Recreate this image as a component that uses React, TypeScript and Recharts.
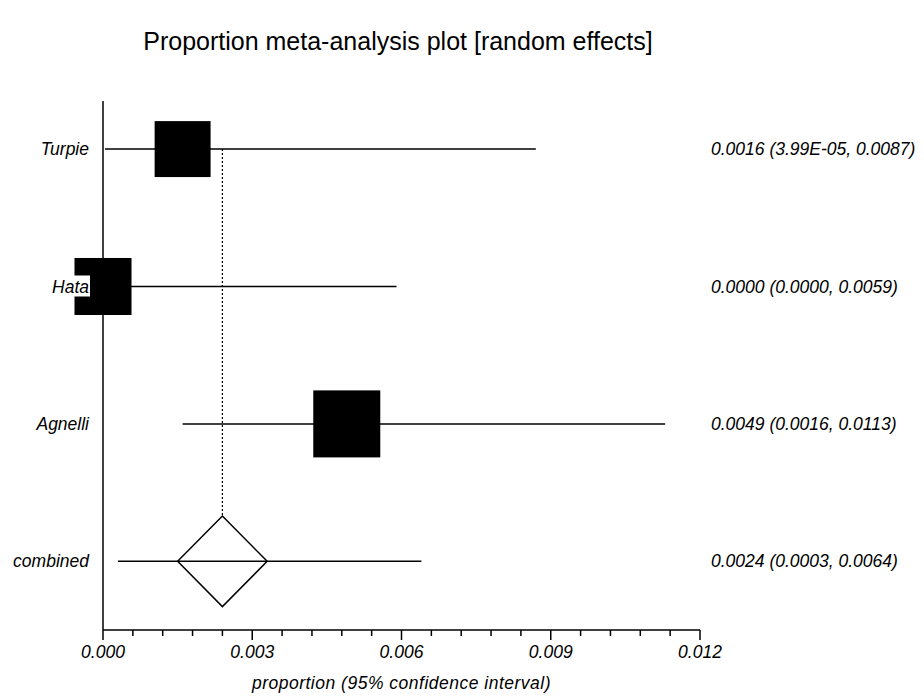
import {
  ComposedChart,
  ErrorBar,
  Label,
  ReferenceLine,
  Scatter,
  XAxis,
  YAxis,
} from "recharts";

// individual studies (top to bottom)
const studyNames = ["Turpie", "Hata", "Agnelli"];
const studyRows = [4, 3, 2];
const studyEst = [0.0016, 0.0, 0.0049];
const studyLow = [0.0000399, 0.0, 0.0016];
const studyHigh = [0.0087, 0.0059, 0.0113];
const studyWeight = [28.8, 29.9, 41.3]; // % weight, box area

// pooled estimate
const pooledName = "combined";
const pooledRow = 1;
const pooledEst = 0.0024;
const pooledLow = 0.0003;
const pooledHigh = 0.0064;
const diamondLow = 0.0015;
const diamondHigh = 0.0033;
const diamondHalf = 0.33;

const xTicks = [
  0, 0.0006, 0.0012, 0.0018, 0.0024, 0.003, 0.0036, 0.0042, 0.0048, 0.0054,
  0.006, 0.0066, 0.0072, 0.0078, 0.0084, 0.009, 0.0096, 0.0102, 0.0108,
  0.0114, 0.012,
];
const xMajor = [0, 0.003, 0.006, 0.009, 0.012];
const rowTicks = [1, 2, 3, 4];

const BOX_AREA = 10874;
const FONT = '"Liberation Sans", Arial, sans-serif';

const fmt = (v: number) =>
  v > 0 && v < 0.0001
    ? v.toExponential(2).toUpperCase().replace(/E([+-])(\d)$/, "E$10$2")
    : v.toFixed(4);

const leftLabel: Record<number, string> = { [pooledRow]: pooledName };
const rightLabel: Record<number, string> = {
  [pooledRow]: `${fmt(pooledEst)} (${fmt(pooledLow)}, ${fmt(pooledHigh)})`,
};
studyNames.forEach((n, i) => {
  leftLabel[studyRows[i]] = n;
  rightLabel[studyRows[i]] = `${fmt(studyEst[i])} (${fmt(studyLow[i])}, ${fmt(studyHigh[i])})`;
});

const studyData = studyNames.map((name, i) => ({
  name,
  x: studyEst[i],
  y: studyRows[i],
  w: studyWeight[i],
  err: [studyEst[i] - studyLow[i], studyHigh[i] - studyEst[i]],
}));

const pooledData = [
  { x: pooledEst, y: pooledRow, err: [pooledEst - pooledLow, pooledHigh - pooledEst] },
];

const diamondData = [
  { x: diamondLow, y: pooledRow },
  { x: pooledEst, y: pooledRow + diamondHalf },
  { x: diamondHigh, y: pooledRow },
  { x: pooledEst, y: pooledRow - diamondHalf },
  { x: diamondLow, y: pooledRow },
];

const Box = (props: any) => {
  const { cx, cy, payload } = props;
  const s = Math.sqrt((payload.w / 100) * BOX_AREA);
  return <rect x={cx - s / 2} y={cy - s / 2} width={s} height={s} fill="#000" />;
};

const NoShape = () => <g />;

const XTick = (props: any) => {
  const { x, y, payload } = props;
  const major = xMajor.some((m) => Math.abs(m - payload.value) < 1e-9);
  return (
    <g>
      <line x1={x} x2={x} y1={y} y2={y + (major ? 10 : 6)} stroke="#000" strokeWidth={1.5} />
      {major && (
        <text x={x} y={y + 28} textAnchor="middle" fontSize={17.5} fontStyle="italic" fontFamily={FONT} fill="#000">
          {payload.value.toFixed(3)}
        </text>
      )}
    </g>
  );
};

const LeftTick = (props: any) => {
  const { x, y, payload } = props;
  const label = leftLabel[payload.value] ?? "";
  const w = label.length * 9.6;
  return (
    <g>
      <rect x={x - w} y={y - 11} width={w + 1} height={21} fill="#fff" />
      <text x={x} y={y} dy="0.35em" textAnchor="end" fontSize={17.5} fontStyle="italic" fontFamily={FONT} fill="#000">
        {label}
      </text>
    </g>
  );
};

const RightTick = (props: any) => {
  const { x, y, payload } = props;
  return (
    <text x={x} y={y} dy="0.35em" textAnchor="start" fontSize={17.5} fontStyle="italic" fontFamily={FONT} fill="#000">
      {rightLabel[payload.value] ?? ""}
    </text>
  );
};

export default function App() {
  return (
    <div style={{ position: "absolute", left: 0, top: 0, width: 924, height: 698, background: "#fff" }}>
      <div
        style={{
          position: "absolute",
          left: 0,
          top: 29,
          width: 796,
          textAlign: "center",
          fontFamily: FONT,
          fontSize: 25,
          lineHeight: "25px",
          color: "#000",
        }}
      >
        Proportion meta-analysis plot [random effects]
      </div>
      <ComposedChart width={924} height={698} margin={{ top: 101, right: 0, bottom: 0, left: 0 }}>
        <XAxis
          type="number"
          dataKey="x"
          domain={[0, 0.012]}
          ticks={xTicks}
          interval={0}
          height={68}
          tickSize={0}
          tickMargin={0}
          tickLine={false}
          tick={<XTick />}
          axisLine={{ stroke: "#000", strokeWidth: 1.5 }}
        >
          <Label
            value="proportion (95% confidence interval)"
            position="insideBottom"
            offset={9}
            fontSize={17.5}
            letterSpacing={0.5}
            fontStyle="italic"
            fontFamily={FONT}
            fill="#000"
          />
        </XAxis>
        <YAxis
          yAxisId="right"
          orientation="right"
          type="number"
          dataKey="y"
          domain={[0.5, 4.35]}
          ticks={rowTicks}
          width={224}
          tickSize={0}
          tickMargin={11}
          tickLine={false}
          axisLine={false}
          tick={<RightTick />}
        />
        <Scatter yAxisId="right" data={pooledData} dataKey="y" shape={<NoShape />} isAnimationActive={false} />
        <ReferenceLine
          yAxisId="left"
          segment={[
            { x: pooledEst, y: studyRows[0] },
            { x: pooledEst, y: pooledRow + diamondHalf },
          ]}
          stroke="#000"
          strokeWidth={1.2}
          strokeDasharray="2 2"
        />
        <Scatter yAxisId="left" data={studyData} dataKey="y" shape={<Box />} isAnimationActive={false}>
          <ErrorBar dataKey="err" direction="x" width={0} stroke="#000" strokeWidth={1.5} />
        </Scatter>
        <Scatter yAxisId="left" data={pooledData} dataKey="y" shape={<NoShape />} isAnimationActive={false}>
          <ErrorBar dataKey="err" direction="x" width={0} stroke="#000" strokeWidth={1.5} />
        </Scatter>
        <Scatter
          yAxisId="left"
          data={diamondData}
          dataKey="y"
          line={{ stroke: "#000", strokeWidth: 1.5, fill: "none" }}
          lineType="joint"
          shape={<NoShape />}
          isAnimationActive={false}
        />
        <YAxis
          yAxisId="left"
          type="number"
          dataKey="y"
          domain={[0.5, 4.35]}
          ticks={rowTicks}
          width={103}
          tickSize={0}
          tickMargin={14}
          tickLine={false}
          tick={<LeftTick />}
          axisLine={{ stroke: "#000", strokeWidth: 1.5 }}
          zIndex={700}
        />
      </ComposedChart>
    </div>
  );
}
